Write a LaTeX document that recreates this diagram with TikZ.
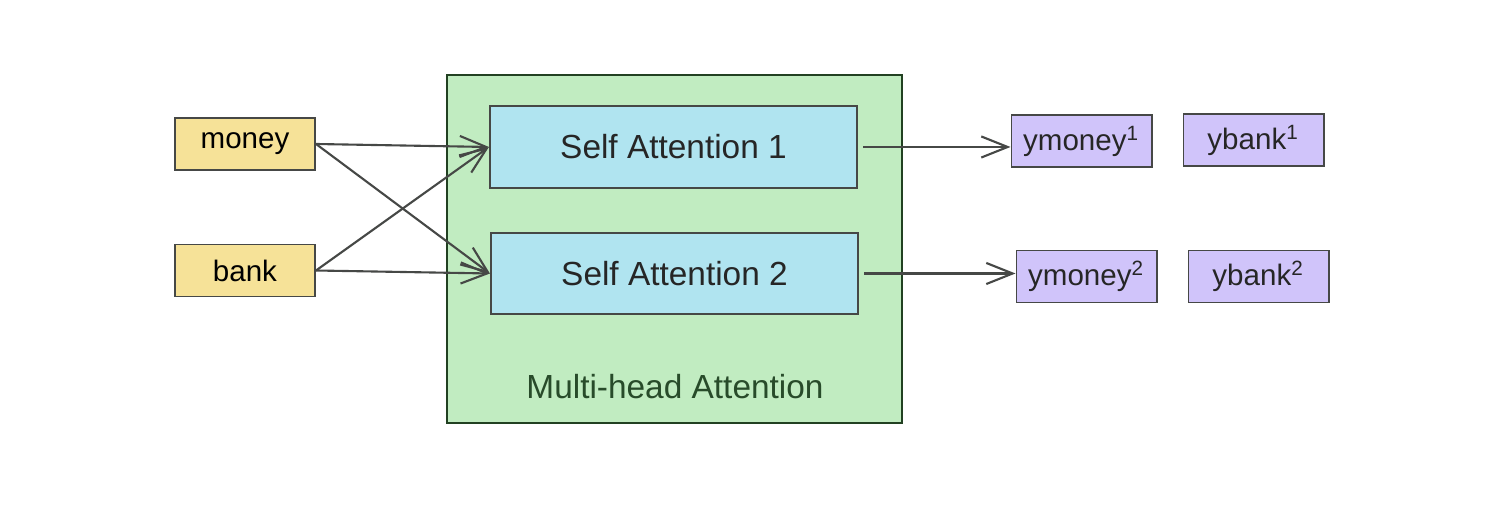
\documentclass[tikz,border=0pt]{standalone}
\usepackage{fontspec}
\setmainfont{Liberation Sans}
\usetikzlibrary{arrows.meta}
\definecolor{yfill}{RGB}{246,226,152}
\definecolor{gfill}{RGB}{193,236,193}
\definecolor{bfill}{RGB}{176,228,240}
\definecolor{pfill}{RGB}{208,196,250}
\definecolor{edge}{RGB}{70,72,70}
\definecolor{gtext}{RGB}{40,75,42}
\tikzset{
  box/.style={draw=edge, line width=0.55pt, minimum width=1.4cm, minimum height=0.52cm, inner sep=0pt, font=\fontsize{8.4}{10}\selectfont},
  inbox/.style={box, fill=yfill},
  outbox/.style={box, fill=pfill, text=black!85},
  sabox/.style={draw=edge, line width=0.55pt, fill=bfill, minimum width=3.67cm, minimum height=0.815cm, inner sep=0pt, font=\fontsize{9.5}{11}\selectfont, text=black!85},
  mhbox/.style={draw=edge!80!green!60!black, line width=0.65pt, fill=gfill, minimum width=4.55cm, minimum height=3.48cm, inner sep=0pt},
  conn/.style={draw=edge, line width=0.6pt, -{Straight Barb[length=7.5pt,width=6pt,line width=0.6pt]}},
}
\begin{document}
\begin{tikzpicture}[x=0.01cm, y=-0.01cm]
\useasboundingbox (0,0) rectangle (1494,528);
\node[mhbox] (mh) at (674.5,249) {};
\node[sabox] (sa1) at (673.5,147) {Self Attention 1};
\node[sabox] (sa2) at (674.5,273.5) {Self Attention 2};
\node[text=gtext, font=\fontsize{9.5}{11}\selectfont] (mhlabel) at (675,387) {Multi-head Attention};
\node[inbox] (money) at (245,144) {money};
\node[inbox] (bank) at (245,270.5) {bank};
\node[outbox] (ym1) at (1081.5,141) {ymoney\textsuperscript{1}};
\node[outbox] (yb1) at (1253.5,140) {ybank\textsuperscript{1}};
\node[outbox] (ym2) at (1086.5,276.5) {ymoney\textsuperscript{2}};
\node[outbox] (yb2) at (1258.5,276.5) {ybank\textsuperscript{2}};
\draw[conn] (money.east) -- (sa1.west);
\draw[conn] (money.east) -- (sa2.west);
\draw[conn] (bank.east) -- (sa1.west);
\draw[conn] (bank.east) -- (sa2.west);
\draw[conn, shorten <=1.5pt] (sa1.east) -- (sa1.east -| ym1.west);
\draw[conn, shorten <=1.5pt] (sa2.east) -- (sa2.east -| ym2.west);
\end{tikzpicture}
\end{document}
